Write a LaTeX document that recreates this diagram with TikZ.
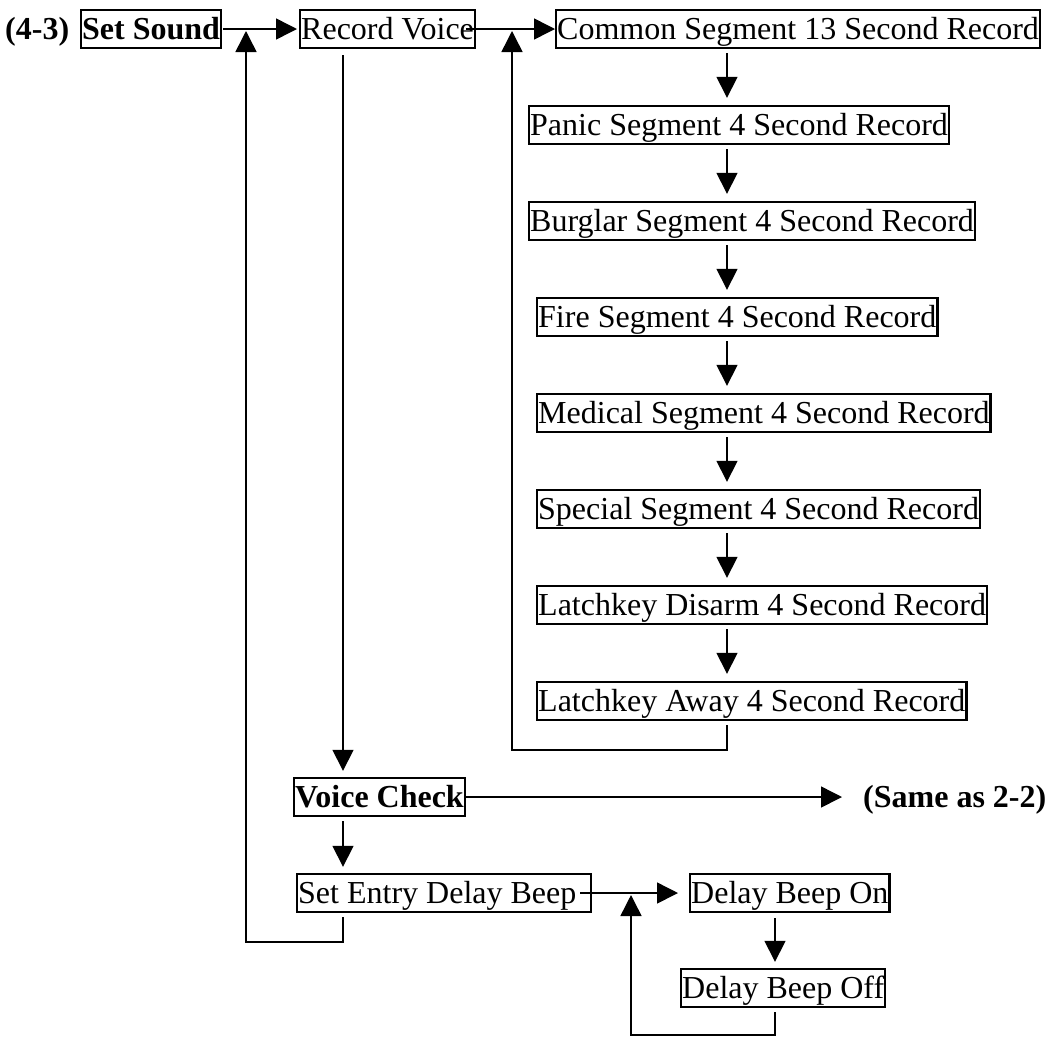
\documentclass[tikz,border=0pt]{standalone}
\usepackage{fontspec}
\setmainfont{Liberation Serif}
\usetikzlibrary{arrows.meta}
\begin{document}
\begin{tikzpicture}[x=1pt,y=1pt,
  every node/.style={font=\fontsize{32}{36}\selectfont, text height=29pt, text depth=8pt, inner ysep=0.5pt, inner xsep=1pt},
  box/.style={draw, line width=2.4pt},
  plain/.style={inner xsep=0pt},
  arr/.style={line width=1.5pt, -{Triangle[length=21pt,width=21pt]}},
  ln/.style={line width=1.5pt}]
\useasboundingbox (0,0) rectangle (1049,-1037);
% helper columns
\coordinate (cx1) at (343,0);
\coordinate (colx) at (727,0);
\coordinate (cx3) at (775,0);
\coordinate (j1) at (246,-31);
\coordinate (j2) at (512,-31);
\coordinate (j3) at (631,-895);
% nodes
\node[plain, anchor=west] (lbl) at (5,-29) {\bfseries (4-3)};
\node[box, anchor=west] (setsound) at (80,-29) {\bfseries Set Sound};
\node[box, anchor=west] (recv) at (299,-29) {Record Voice};
\node[box, anchor=west] (common) at (555,-29) {Common Segment 13 Second Record};
\node[box, anchor=west] (panic) at (528,-125) {Panic Segment 4 Second Record};
\node[box, anchor=west] (burglar) at (528,-221) {Burglar Segment 4 Second Record};
\node[box, anchor=west] (fire) at (536,-317) {Fire Segment 4 Second Record};
\node[box, anchor=west] (medical) at (536,-413) {Medical Segment 4 Second Record};
\node[box, anchor=west] (special) at (536,-509) {Special Segment 4 Second Record};
\node[box, anchor=west] (disarm) at (536,-605) {Latchkey Disarm 4 Second Record};
\node[box, anchor=west] (away) at (536,-701) {Latchkey Away 4 Second Record};
\node[box, anchor=west] (vc) at (293,-797) {\bfseries Voice Check};
\node[plain, anchor=west] (same) at (863,-797) {\bfseries (Same as 2-2)};
\node[box, anchor=west] (setentry) at (296,-893) {\makebox[292pt][l]{Set Entry Delay Beep}};
\node[box, anchor=west] (don) at (689,-893) {Delay Beep On};
\node[box, anchor=west] (doff) at (680,-988) {Delay Beep Off};
% horizontal arrows
\draw[arr, shorten <=1pt, shorten >=2pt] (setsound.east) -- (recv.west);
\draw[arr] ([xshift=-10pt]recv.east) -- (common.west);
\draw[arr, shorten >=21pt] (vc.east) -- (same.west);
\draw[arr, shorten >=11pt] ([xshift=-12pt]setentry.east) -- (don.west);
% vertical chain
\foreach \a/\b in {common/panic, panic/burglar, burglar/fire, fire/medical, medical/special, special/disarm, disarm/away}
  \draw[arr, shorten <=4pt, shorten >=7pt] (\a.south -| colx) -- (\b.north -| colx);
\draw[arr, shorten <=6pt, shorten >=6pt] (recv.south -| cx1) -- (vc.north -| cx1);
\draw[arr, shorten <=4pt, shorten >=6pt] (vc.south -| cx1) -- (setentry.north -| cx1);
\draw[arr, shorten <=5pt, shorten >=6pt] (don.south -| cx3) -- (doff.north -| cx3);
% loops back
\draw[arr, shorten <=4pt] (setentry.south -| cx1) -- ++(0,-29) -| (j1);
\draw[arr, shorten <=4pt] (away.south -| colx) -- ++(0,-29) -| (j2);
\draw[arr, shorten <=4pt] (doff.south -| cx3) -- ++(0,-27) -| (j3);
\end{tikzpicture}
\end{document}
